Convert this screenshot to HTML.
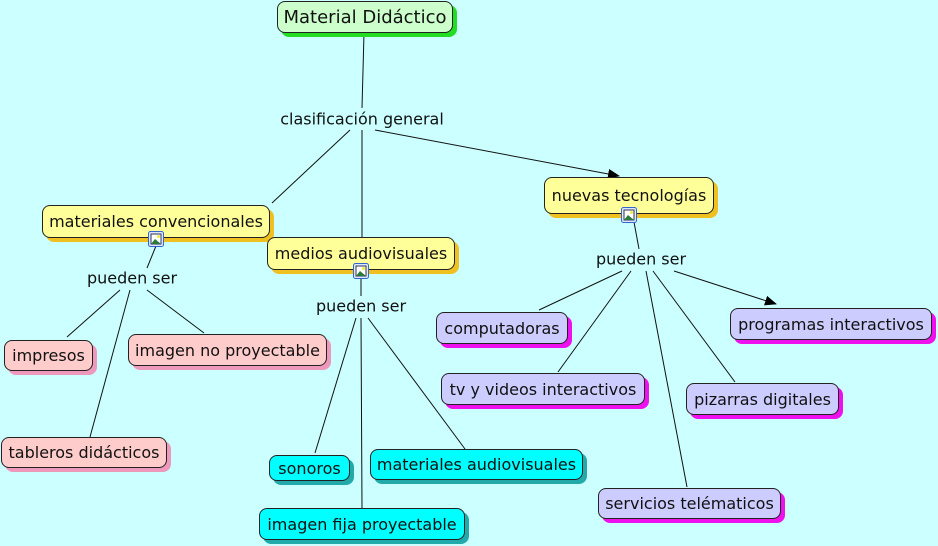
<!DOCTYPE html>
<html><head><meta charset="utf-8">
<style>
html,body{margin:0;padding:0}
body{width:938px;height:546px;background:#ccffff;position:relative;overflow:hidden;font-family:"DejaVu Sans","Liberation Sans",sans-serif;font-size:16px;color:#111}
.n{position:absolute;box-sizing:border-box;border:1px solid #222;border-radius:8px;display:flex;align-items:center;justify-content:center;white-space:nowrap}
.g{background:#ccffcc;box-shadow:4px 4px 0 #22dd22}
.y{background:#ffff99;box-shadow:4px 4px 0 #f0c020}
.p{background:#ffcccc;box-shadow:4px 4px 0 #ee99bb}
.c{background:#00ffff;box-shadow:4px 4px 0 #22aaaa}
.v{background:#ccccff;box-shadow:4px 4px 0 #ee11ee}
.l{position:absolute;white-space:nowrap;transform:translate(-50%,-50%);background:#ccffff;padding:0 2px}
svg{position:absolute;left:0;top:0}
</style></head><body>
<svg width="938" height="546">
<defs><marker id="a" markerWidth="12" markerHeight="10" refX="11" refY="5" orient="auto" markerUnits="userSpaceOnUse"><path d="M0,0 L12,5 L0,10 z" fill="#000"/></marker></defs>
<g stroke="#111" stroke-width="1" fill="none">
<line x1="364" y1="33" x2="362" y2="108"/>
<line x1="350" y1="130" x2="272" y2="203"/>
<line x1="362" y1="130" x2="362" y2="237"/>
<line x1="375" y1="130" x2="619" y2="176" marker-end="url(#a)"/>
<line x1="156" y1="246" x2="147" y2="268"/>
<line x1="120" y1="290" x2="67" y2="337"/>
<line x1="147" y1="290" x2="204" y2="333"/>
<line x1="130" y1="290" x2="90" y2="437"/>
<line x1="361" y1="279" x2="361" y2="296"/>
<line x1="356" y1="318" x2="315" y2="453"/>
<line x1="361" y1="318" x2="362" y2="508"/>
<line x1="368" y1="318" x2="465" y2="449"/>
<line x1="634" y1="222" x2="639" y2="249"/>
<line x1="622" y1="271" x2="539" y2="310"/>
<line x1="631" y1="271" x2="558" y2="372"/>
<line x1="646" y1="271" x2="687" y2="487"/>
<line x1="653" y1="271" x2="735" y2="382"/>
<line x1="674" y1="271" x2="776" y2="304" marker-end="url(#a)"/>
</g>
</svg>
<div class="n g" style="left:277px;top:1px;width:176px;height:32px;font-size:18px">Material Didáctico</div>
<div class="l" style="left:362px;top:119px">clasificación general</div>
<div class="n y" style="left:42px;top:205px;width:228px;height:33px">materiales convencionales</div>
<div class="n y" style="left:267px;top:237px;width:188px;height:33px">medios audiovisuales</div>
<div class="n y" style="left:544px;top:177px;width:170px;height:37px">nuevas tecnologías</div>
<div class="l" style="left:132px;top:278px">pueden ser</div>
<div class="l" style="left:361px;top:306px">pueden ser</div>
<div class="l" style="left:641px;top:259px">pueden ser</div>
<div class="n p" style="left:4px;top:340px;width:89px;height:31px">impresos</div>
<div class="n p" style="left:128px;top:334px;width:199px;height:32px">imagen no proyectable</div>
<div class="n p" style="left:1px;top:437px;width:166px;height:31px">tableros didácticos</div>
<div class="n c" style="left:269px;top:455px;width:81px;height:26px">sonoros</div>
<div class="n c" style="left:370px;top:449px;width:213px;height:31px">materiales audiovisuales</div>
<div class="n c" style="left:259px;top:508px;width:206px;height:32px">imagen fija proyectable</div>
<div class="n v" style="left:436px;top:312px;width:132px;height:32px">computadoras</div>
<div class="n v" style="left:441px;top:373px;width:204px;height:32px">tv y videos interactivos</div>
<div class="n v" style="left:730px;top:308px;width:202px;height:32px">programas interactivos</div>
<div class="n v" style="left:686px;top:383px;width:153px;height:32px">pizarras digitales</div>
<div class="n v" style="left:598px;top:488px;width:183px;height:31px">servicios telématicos</div>
<svg width="938" height="546" style="pointer-events:none">
<g>
<g transform="translate(148,231)"><rect x="0.5" y="0.5" width="15" height="15" rx="2" fill="#dde8ff" stroke="#3366cc"/><rect x="3" y="3" width="10" height="10" fill="#fff" stroke="#335"/><path d="M3,13 L7,8 L13,13z" fill="#2a7a3a"/><circle cx="10.5" cy="5.5" r="1.5" fill="#ee3"/></g>
<g transform="translate(353,263)"><rect x="0.5" y="0.5" width="15" height="15" rx="2" fill="#dde8ff" stroke="#3366cc"/><rect x="3" y="3" width="10" height="10" fill="#fff" stroke="#335"/><path d="M3,13 L7,8 L13,13z" fill="#2a7a3a"/><circle cx="10.5" cy="5.5" r="1.5" fill="#ee3"/></g>
<g transform="translate(621,207)"><rect x="0.5" y="0.5" width="15" height="15" rx="2" fill="#dde8ff" stroke="#3366cc"/><rect x="3" y="3" width="10" height="10" fill="#fff" stroke="#335"/><path d="M3,13 L7,8 L13,13z" fill="#2a7a3a"/><circle cx="10.5" cy="5.5" r="1.5" fill="#ee3"/></g>
</g>
</svg>
</body></html>
